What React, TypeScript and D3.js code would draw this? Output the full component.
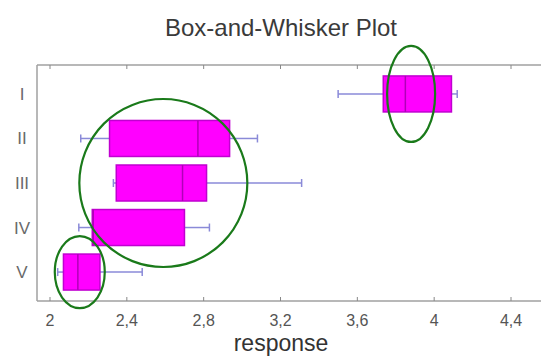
import React from 'react';
import * as d3 from 'd3';

// categories top to bottom
const groups = ['I', 'II', 'III', 'IV', 'V'];
// five-number summaries
const lowWhisker = [3.5, 2.16, 2.33, 2.15, 2.04];
const q1 = [3.735, 2.31, 2.345, 2.22, 2.07];
const medians = [3.85, 2.77, 2.69, 2.225, 2.145];
const q3 = [4.09, 2.935, 2.815, 2.7, 2.26];
const highWhisker = [4.12, 3.08, 3.31, 2.83, 2.48];

const xTicks = [2, 2.4, 2.8, 3.2, 3.6, 4, 4.4];

// green hand-drawn marks: center value, group, radii
const marks = [
  { x: 3.88, g: 'I', rx: 24, ry: 48 },
  { x: 2.59, g: 'III', rx: 84, ry: 84 },
  { x: 2.155, g: 'V', rx: 25, ry: 36 },
];

const W = 541;
const H = 359;

export default function App() {
  const left = 37;
  const top = 65;
  const bottom = 301;
  const x = d3.scaleLinear().domain([2, 4.4]).range([50, 511]);
  const y = d3.scalePoint<string>().domain(groups).range([top, bottom]).padding(0.65);
  const boxH = 36;
  const font = 'Liberation Sans, Arial, sans-serif';
  const axisColor = '#a0a0a0';

  return (
    <div style={{ position: 'absolute', left: 0, top: 0 }}>
      <svg width={W} height={H} style={{ display: 'block', background: '#fff' }}>
        <text x={281} y={36} textAnchor="middle" fontFamily={font} fontSize={24} fill="#3a3a3a">
          Box-and-Whisker Plot
        </text>

        {/* frame */}
        <line x1={left} x2={W} y1={top} y2={top} stroke={axisColor} strokeWidth={1.5} />
        <line x1={left} x2={W} y1={bottom} y2={bottom} stroke={axisColor} strokeWidth={1.5} />
        <line x1={left} x2={left} y1={top} y2={bottom} stroke={axisColor} strokeWidth={1.5} />

        {xTicks.map(t => (
          <g key={t}>
            <line x1={x(t)} x2={x(t)} y1={top} y2={top + 4} stroke="#888" />
            <line x1={x(t)} x2={x(t)} y1={bottom} y2={bottom - 4} stroke="#888" />
            <text x={x(t)} y={326} textAnchor="middle" fontFamily={font} fontSize={16} fill="#555">
              {String(t).replace('.', ',')}
            </text>
          </g>
        ))}

        {groups.map(g => (
          <text key={g} x={22} y={(y(g) as number) + 6} textAnchor="middle" fontFamily={font} fontSize={17} fill="#6a6a6a">
            {g}
          </text>
        ))}

        {groups.map((g, i) => {
          const cy = y(g) as number;
          return (
            <g key={g}>
              <line x1={x(lowWhisker[i])} x2={x(q1[i])} y1={cy} y2={cy} stroke="#8a8ad8" strokeWidth={1.5} />
              <line x1={x(q3[i])} x2={x(highWhisker[i])} y1={cy} y2={cy} stroke="#8a8ad8" strokeWidth={1.5} />
              <line x1={x(lowWhisker[i])} x2={x(lowWhisker[i])} y1={cy - 4} y2={cy + 4} stroke="#8a8ad8" strokeWidth={1.5} />
              <line x1={x(highWhisker[i])} x2={x(highWhisker[i])} y1={cy - 4} y2={cy + 4} stroke="#8a8ad8" strokeWidth={1.5} />
              <rect
                x={x(q1[i])}
                y={cy - boxH / 2}
                width={x(q3[i]) - x(q1[i])}
                height={boxH}
                fill="#ff00ff"
                stroke="#c000d0"
                strokeWidth={1.5}
              />
              <line x1={x(medians[i])} x2={x(medians[i])} y1={cy - boxH / 2} y2={cy + boxH / 2} stroke="#b000b8" strokeWidth={1.5} />
            </g>
          );
        })}

        {marks.map((m, i) => (
          <ellipse key={i} cx={x(m.x)} cy={y(m.g) as number} rx={m.rx} ry={m.ry} fill="none" stroke="#1a7a1a" strokeWidth={2.2} />
        ))}

        <text x={281} y={351} textAnchor="middle" fontFamily={font} fontSize={23} fill="#333">
          response
        </text>
      </svg>
    </div>
  );
}
